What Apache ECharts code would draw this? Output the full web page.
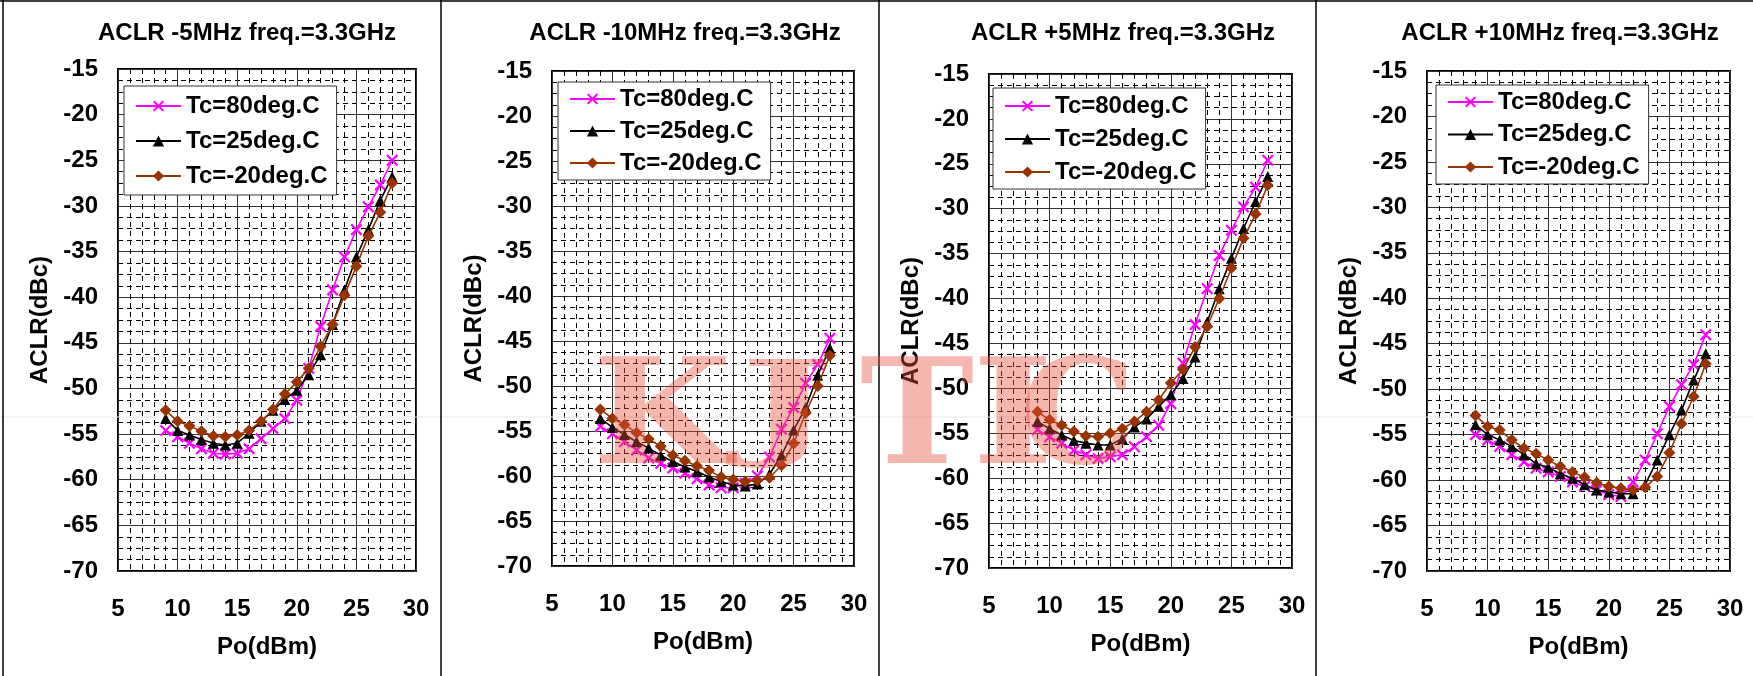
<!DOCTYPE html>
<html><head><meta charset="utf-8">
<script src="https://cdn.jsdelivr.net/npm/echarts@6/dist/echarts.min.js"></script>
<style>html,body{margin:0;padding:0;background:#fff}#c{width:1753px;height:676px}</style>
</head><body><div id="c"></div>
<script>
// ---------- data ----------
const poDbm = [9,10,11,12,13,14,15,16,17,18,19,20,21,22,23,24,25,26,27,28];
const seriesNames = ['Tc=80deg.C','Tc=25deg.C','Tc=-20deg.C'];
const panelTitles = ['ACLR -5MHz freq.=3.3GHz','ACLR -10MHz freq.=3.3GHz','ACLR +5MHz freq.=3.3GHz','ACLR +10MHz freq.=3.3GHz'];
const xAxisName = 'Po(dBm)';
const yAxisName = 'ACLR(dBc)';

// ACLR -5MHz
const m5_t80  = [-54.6,-55.3,-56.0,-56.6,-57.1,-57.2,-57.1,-56.6,-55.5,-54.4,-53.3,-51.3,-47.8,-43.2,-39.2,-35.6,-32.6,-30.1,-27.7,-25.0];
const m5_t25  = [-53.3,-54.6,-55.1,-55.6,-56.0,-56.2,-56.0,-54.9,-53.6,-52.4,-51.2,-50.2,-48.5,-46.3,-43.0,-39.2,-35.6,-32.6,-29.4,-26.8];
const m5_tm20 = [-52.4,-53.6,-54.1,-54.7,-55.2,-55.3,-55.1,-54.6,-53.6,-52.3,-50.6,-49.3,-47.8,-45.4,-43.0,-39.8,-36.6,-33.3,-30.7,-27.5];
// ACLR -10MHz
const m10_t80  = [-54.5,-55.3,-56.2,-57.1,-58.0,-58.6,-59.1,-59.7,-60.3,-61.0,-61.3,-61.3,-60.8,-60.0,-57.9,-54.8,-52.4,-49.7,-47.6,-44.7];
const m10_t25  = [-53.6,-54.6,-55.4,-56.2,-56.9,-57.7,-58.4,-59.0,-59.5,-60.1,-60.6,-61.0,-61.1,-60.9,-59.8,-57.7,-54.9,-52.4,-48.8,-45.8];
const m10_tm20 = [-52.6,-53.6,-54.3,-55.2,-55.9,-56.7,-57.7,-58.3,-58.9,-59.4,-60.1,-60.4,-60.6,-60.5,-60.2,-58.8,-56.4,-53.0,-50.0,-46.6];
// ACLR +5MHz
const p5_t80  = [-54.6,-55.4,-56.1,-56.9,-57.4,-57.8,-57.6,-57.4,-56.5,-55.4,-54.1,-51.7,-47.2,-42.9,-38.9,-35.2,-32.4,-29.8,-27.6,-24.6];
const p5_t25  = [-53.7,-54.5,-55.2,-55.8,-56.1,-56.3,-56.3,-55.6,-54.3,-53.4,-52.0,-50.7,-48.9,-46.5,-42.6,-38.9,-35.5,-32.2,-29.2,-26.4];
const p5_tm20 = [-52.6,-53.5,-54.1,-54.8,-55.3,-55.4,-55.0,-54.5,-53.7,-52.6,-51.3,-49.4,-47.9,-45.4,-43.1,-40.0,-36.6,-33.3,-30.6,-27.4];
// ACLR +10MHz
const p10_t80  = [-55.0,-55.6,-56.3,-57.2,-58.0,-58.7,-59.1,-59.6,-60.2,-60.7,-61.1,-61.6,-61.8,-60.2,-57.8,-54.9,-51.9,-49.5,-47.3,-44.0];
const p10_t25  = [-53.9,-55.0,-55.6,-56.3,-57.2,-58.2,-58.6,-59.3,-59.8,-60.5,-61.1,-61.3,-61.5,-61.5,-60.5,-57.8,-55.0,-52.3,-49.0,-46.1];
const p10_tm20 = [-52.9,-54.1,-54.5,-55.6,-56.5,-57.1,-57.8,-58.5,-59.1,-59.7,-60.3,-60.7,-60.9,-61.1,-60.8,-59.6,-57.0,-53.8,-50.8,-47.2];

const panelData = [
  [m5_t80, m5_t25, m5_tm20],
  [m10_t80, m10_t25, m10_tm20],
  [p5_t80, p5_t25, p5_tm20],
  [p10_t80, p10_t25, p10_tm20]
];

// ---------- layout / style ----------
const FONT = '"Liberation Sans", Arial, sans-serif';
const FS = 24;
const grids = [
  {left:118, top:69, width:298, height:502},
  {left:552, top:71, width:302, height:495},
  {left:989, top:74, width:303, height:494},
  {left:1427, top:71, width:303, height:500}
];
const titleCenters = [242, 680, 1118, 1555];
const legendPos = [
  {left:124, top:86, gap:11, pad:[8,9,7,11]},
  {left:558, top:82, gap:8, pad:[5,9,5,11]},
  {left:993, top:88, gap:9, pad:[6,9,5,11]},
  {left:1436, top:85, gap:8.5, pad:[5,9,5,11]}
];
const colors = ['#FF00FF', '#000000', '#993300'];
const xSym = 'path://M0,1.3L1.3,0L5,3.7L8.7,0L10,1.3L6.3,5L10,8.7L8.7,10L5,6.3L1.3,10L0,8.7L3.7,5Z';
const symbols = [xSym, 'triangle', 'diamond'];
const symSizes = [12, 11, 12];

const option = {
  animation: false,
  backgroundColor: '#fff',
  title: panelTitles.map((t, i) => ({
    text: t, left: titleCenters[i], top: 16, textAlign: 'center',
    textStyle: {fontFamily: FONT, fontWeight: 'bold', fontSize: FS, color: '#000'}
  })),
  legend: legendPos.map(p => ({
    data: seriesNames, orient: 'vertical', left: p.left, top: p.top,
    itemGap: p.gap, padding: p.pad, itemWidth: 45, itemHeight: 14,
    backgroundColor: '#fff', borderColor: '#333', borderWidth: 1,
    selectedMode: false, z: 10,
    textStyle: {fontFamily: FONT, fontWeight: 'bold', fontSize: FS, color: '#000'}
  })),
  grid: grids.map(g => Object.assign({show: true, borderColor: '#000', borderWidth: 2, backgroundColor: 'transparent'}, g)),
  xAxis: grids.map((g, i) => ({
    type: 'value', gridIndex: i, min: 5, max: 30, interval: 5,
    name: xAxisName, nameLocation: 'middle', nameGap: 64,
    nameTextStyle: {fontFamily: FONT, fontWeight: 'bold', fontSize: FS, color: '#000'},
    axisLine: {show: false}, axisTick: {show: false},
    axisLabel: {margin: 26, fontFamily: FONT, fontWeight: 'bold', fontSize: FS, color: '#000'},
    splitLine: {show: true, lineStyle: {color: '#333', width: 1}},
    minorTick: {show: false, splitNumber: 5},
    minorSplitLine: {show: true, lineStyle: {color: '#000', width: 1, type: [5, 4]}}
  })),
  yAxis: grids.map((g, i) => ({
    type: 'value', gridIndex: i, min: -70, max: -15, interval: 5,
    name: yAxisName, nameLocation: 'middle', nameGap: 66, nameRotate: 90,
    nameTextStyle: {fontFamily: FONT, fontWeight: 'bold', fontSize: FS, color: '#000'},
    axisLine: {show: false}, axisTick: {show: false},
    axisLabel: {margin: 20, fontFamily: FONT, fontWeight: 'bold', fontSize: FS, color: '#000'},
    splitLine: {show: true, lineStyle: {color: '#333', width: 1}},
    minorTick: {show: false, splitNumber: 4},
    minorSplitLine: {show: true, lineStyle: {color: '#000', width: 1, type: [5, 4]}}
  })),
  series: [],
  graphic: []
};

panelData.forEach((arr, p) => {
  arr.forEach((vals, s) => {
    option.series.push({
      type: 'line', name: seriesNames[s], xAxisIndex: p, yAxisIndex: p,
      data: poDbm.map((x, k) => [x, vals[k]]),
      symbol: symbols[s], symbolSize: symSizes[s], showSymbol: true,
      lineStyle: {color: colors[s], width: 1.6},
      itemStyle: {color: colors[s]},
      z: 3 + s
    });
  });
});

// panel frame lines
const frameLines = [[3,0,3,676],[0,1,1753,1],[441,0,441,676],[879,0,879,676],[1316,0,1316,676]];
frameLines.forEach(l => option.graphic.push({
  type: 'line', shape: {x1:l[0], y1:l[1], x2:l[2], y2:l[3]},
  style: {stroke: '#000', lineWidth: 1.5}, z: 20, silent: true
}));
option.graphic.push({type:'line', shape:{x1:0,y1:417,x2:1753,y2:417}, style:{stroke:'#e8e8e8', lineWidth:1}, z:1, silent:true});
// watermark (letter, centre x, centre y, horizontal / vertical stretch)
const wmLetters = ['K','J','T','I','C'];
const wmX = [662, 787, 917, 1013, 1078];
const wmY = [425, 414, 425, 425, 425];
const wmSX = [1.1, 1.35, 1.05, 1.2, 1.0];
const wmSY = [1, 0.8, 1, 1, 1];
wmLetters.forEach((ch, i) => option.graphic.push({
  type: 'text', x: wmX[i], y: wmY[i], scaleX: wmSX[i], scaleY: wmSY[i], z: 50, silent: true,
  style: {text: ch, x: 0, y: 0, font: 'bold 146px "DejaVu Serif", serif', fill: 'rgba(232,80,60,0.42)',
    textAlign: 'center', textVerticalAlign: 'middle'}
}));

const chart = echarts.init(document.getElementById('c'), null, {renderer: 'canvas'});
chart.setOption(option);
</script></body></html>
